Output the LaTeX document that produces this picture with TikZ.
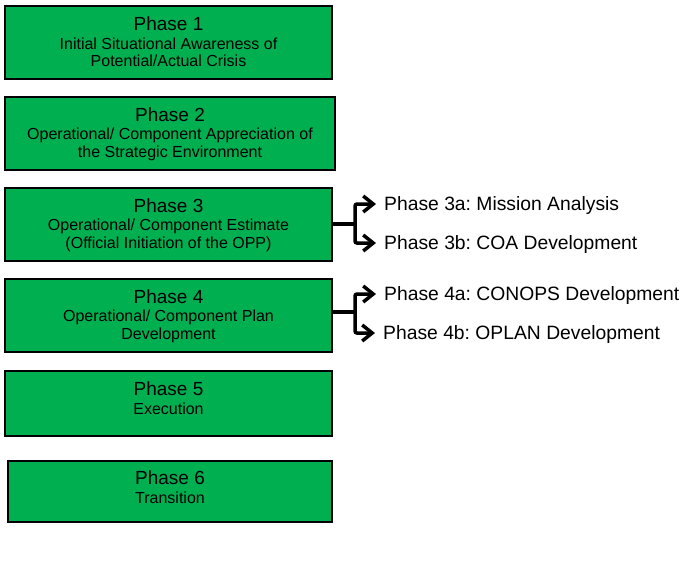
\documentclass[tikz,border=0pt]{standalone}
\usepackage{fontspec}
\setmainfont{Liberation Sans}
\usetikzlibrary{arrows.meta}
\definecolor{phasegreen}{HTML}{00B050}
\frenchspacing
\begin{document}
\begin{tikzpicture}[x=1pt,y=-1pt,
  box/.style={draw=black, line width=1.5pt, fill=phasegreen, inner sep=0pt, outer sep=0pt},
  ttl/.style={anchor=base, inner sep=0pt, font=\fontsize{19}{19}\selectfont},
  sub/.style={anchor=base, inner sep=0pt, font=\fontsize{16}{17}\selectfont},
  lbl/.style={anchor=west, inner xsep=8pt, inner ysep=0pt, text height=13.8pt, text depth=0pt, font=\fontsize{19.3}{19}\selectfont},
  conn/.style={draw=black, line width=3.5pt, rounded corners=2pt},
  arr/.style={conn, -{Straight Barb[length=10pt,width=16pt]}}
]
\useasboundingbox (0,0) rectangle (685,565);

% boxes
\node[box, minimum width=327, minimum height=73] (p1) at (168.5,42.5) {};
\node[box, minimum width=330, minimum height=73] (p2) at (170,133.5) {};
\node[box, minimum width=327, minimum height=73] (p3) at (168.5,224.5) {};
\node[box, minimum width=327, minimum height=73] (p4) at (168.5,315.5) {};
\node[box, minimum width=327, minimum height=65] (p5) at (168.5,403.5) {};
\node[box, minimum width=324, minimum height=61] (p6) at (170,491.5) {};

% texts
\node[ttl] (t1) at (168.5,30) {Phase 1};
\node[sub] (s1a) at (168.5,49) {Initial Situational Awareness of};
\node[sub] (s1b) at (168.5,66) {Potential/Actual Crisis};

\node[ttl] (t2) at (170,121) {Phase 2};
\node[sub] (s2a) at (170,139) {Operational/ Component Appreciation of};
\node[sub] (s2b) at (170,157) {the Strategic Environment};

\node[ttl] (t3) at (168.5,212) {Phase 3};
\node[sub] (s3a) at (168.5,230) {Operational/ Component Estimate};
\node[sub] (s3b) at (168.5,248) {(Official Initiation of the OPP)};

\node[ttl] (t4) at (168.5,303) {Phase 4};
\node[sub] (s4a) at (168.5,321) {Operational/ Component Plan};
\node[sub] (s4b) at (168.5,339) {Development};

\node[ttl] (t5) at (168.5,395) {Phase 5};
\node[sub] (s5a) at (168.5,414) {Execution};

\node[ttl] (t6) at (170,484) {Phase 6};
\node[sub] (s6a) at (170,503) {Transition};

% sub-phase labels
\node[lbl] (l3a) at (376,204) {Phase 3a: Mission Analysis};
\node[lbl] (l3b) at (376,243) {Phase 3b: COA Development};
\node[lbl] (l4a) at (376,294) {Phase 4a: CONOPS Development};
\node[lbl] (l4b) at (375,333) {Phase 4b: OPLAN Development};

% junctions
\coordinate (j3) at (355,224);
\coordinate (j4) at (355,312);

\draw[conn] (p3.east |- j3) -- (j3);
\draw[arr] (j3) |- (l3a.west);
\draw[arr] (j3) |- (l3b.west);
\draw[conn] (p4.east |- j4) -- (j4);
\draw[arr] (j4) |- (l4a.west);
\draw[arr] (j4) |- (l4b.west);
\end{tikzpicture}
\end{document}
